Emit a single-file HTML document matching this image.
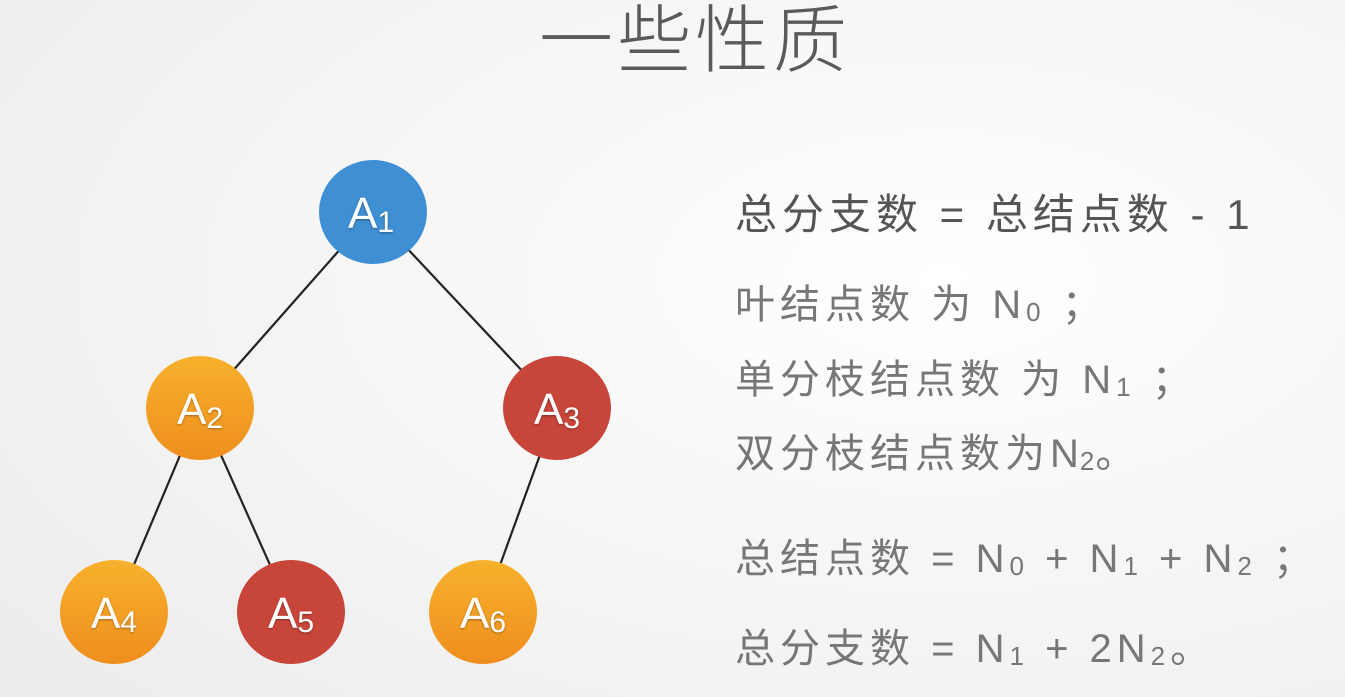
<!DOCTYPE html>
<html><head><meta charset="utf-8"><style>
html,body{margin:0;padding:0;width:1345px;height:697px;overflow:hidden;background:#f4f4f4}
svg text{font-family:"Liberation Sans","Noto Sans CJK SC",sans-serif}
</style></head><body>
<svg width="1345" height="697" viewBox="0 0 1345 697">
<defs>
<radialGradient id="bg" cx="0.7" cy="0.4" r="0.9"><stop offset="0" stop-color="#ffffff"/><stop offset="1" stop-color="#ececec"/></radialGradient>
<linearGradient id="or" x1="0" y1="0" x2="0" y2="1"><stop offset="0" stop-color="#f7b12c"/><stop offset="1" stop-color="#ef8e1d"/></linearGradient>
<filter id="sh"><feDropShadow dx="0" dy="1" stdDeviation="1" flood-color="#000" flood-opacity="0.35"/></filter>
</defs>
<rect width="1345" height="697" fill="url(#bg)"/>
<text x="695" y="66" text-anchor="middle" font-size="74" font-weight="300" fill="#5a5a5a" letter-spacing="4">一些性质</text>
<g stroke="#222" stroke-width="2.2">
<line x1="373" y1="212" x2="200" y2="408"/>
<line x1="373" y1="212" x2="557" y2="408"/>
<line x1="200" y1="408" x2="114" y2="612"/>
<line x1="200" y1="408" x2="291" y2="612"/>
<line x1="557" y1="408" x2="483" y2="612"/>
</g>
<g>
<ellipse cx="373" cy="212" rx="54" ry="52" fill="#3e8fd3"/>
<ellipse cx="200" cy="408" rx="54" ry="52" fill="url(#or)"/>
<ellipse cx="557" cy="408" rx="54" ry="52" fill="#c8453a"/>
<ellipse cx="114" cy="612" rx="54" ry="52" fill="url(#or)"/>
<ellipse cx="291" cy="612" rx="54" ry="52" fill="#c8453a"/>
<ellipse cx="483" cy="612" rx="54" ry="52" fill="url(#or)"/>
</g>
<g font-size="44" fill="#fff" text-anchor="middle" filter="url(#sh)">
<text x="371" y="228">A<tspan font-size="30" dy="4">1</tspan></text>
<text x="200" y="424">A<tspan font-size="30" dy="4">2</tspan></text>
<text x="557" y="424">A<tspan font-size="30" dy="4">3</tspan></text>
<text x="114" y="628">A<tspan font-size="30" dy="4">4</tspan></text>
<text x="291" y="628">A<tspan font-size="30" dy="4">5</tspan></text>
<text x="483" y="628">A<tspan font-size="30" dy="4">6</tspan></text>
</g>
<g font-size="40" letter-spacing="5">
<text x="735" y="229" fill="#555" font-size="42">总分支数 = 总结点数 - 1</text>
<text x="735" y="318" fill="#777">叶结点数 为 N<tspan font-size="26" dy="3">0</tspan><tspan dy="-3"> ；</tspan></text>
<text x="735" y="393" fill="#777">单分枝结点数 为 N<tspan font-size="26" dy="3">1</tspan><tspan dy="-3"> ；</tspan></text>
<text x="735" y="467" fill="#777">双分枝结点数为<tspan letter-spacing="1">N</tspan><tspan font-size="26" dy="3" letter-spacing="1">2</tspan><tspan dy="-3">。</tspan></text>
<text x="735" y="572" fill="#777">总结点数 = N<tspan font-size="26" dy="3">0</tspan><tspan dy="-3"> + N</tspan><tspan font-size="26" dy="3">1</tspan><tspan dy="-3"> + N</tspan><tspan font-size="26" dy="3">2</tspan><tspan dy="-3"> ；</tspan></text>
<text x="735" y="662" fill="#777">总分支数 = N<tspan font-size="26" dy="3">1</tspan><tspan dy="-3"> + 2N</tspan><tspan font-size="26" dy="3">2</tspan><tspan dy="-3">。</tspan></text>
</g>
</svg>
</body></html>
